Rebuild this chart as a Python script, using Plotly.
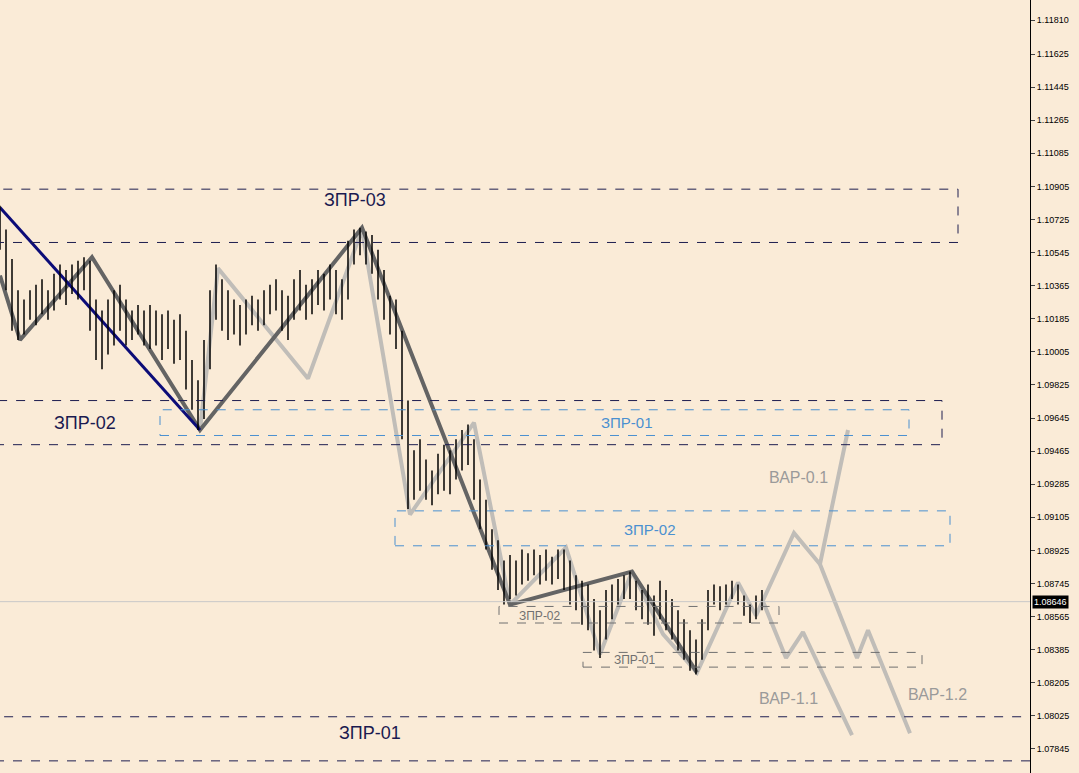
import plotly.graph_objects as go

# Bars: x position, high, low
bar_x = list(range(0, 768, 6))
bar_high = [1.1080, 1.1067, 1.1051, 1.1034, 1.1029, 1.1034, 1.1037, 1.1040, 1.1034, 1.1043,
            1.1048, 1.1045, 1.1048, 1.1050, 1.1052, 1.1050, 1.1029, 1.1023, 1.1029, 1.1034,
            1.1037, 1.1029, 1.1023, 1.1026, 1.1023, 1.1026, 1.1023, 1.1021, 1.1023, 1.1018,
            1.1021, 1.1012, 1.0996, 1.0985, 1.1007, 1.1034, 1.1048, 1.1040, 1.1034, 1.1029,
            1.1026, 1.1029, 1.1031, 1.1029, 1.1034, 1.1037, 1.1040, 1.1034, 1.1031, 1.1040,
            1.1045, 1.1037, 1.1040, 1.1045, 1.1043, 1.1048, 1.1045, 1.1040, 1.1061, 1.1067,
            1.1068, 1.1066, 1.1064, 1.1056, 1.1045, 1.1031, 1.1029, 1.1012, 1.0974, 1.0947,
            1.0953, 1.0942, 1.0936, 1.0945, 1.0950, 1.0947, 1.0953, 1.0958, 1.0961, 1.0953,
            1.0931, 1.0920, 1.0904, 1.0898, 1.0887, 1.0890, 1.0887, 1.0893, 1.0891, 1.0893,
            1.0890, 1.0893, 1.0889, 1.0893, 1.0893, 1.0887, 1.0879, 1.0876, 1.0874, 1.0866,
            1.0860, 1.0871, 1.0874, 1.0877, 1.0879, 1.0881, 1.0876, 1.0871, 1.0874, 1.0868,
            1.0876, 1.0871, 1.0866, 1.0860, 1.0855, 1.0849, 1.0844, 1.0855, 1.0871, 1.0874,
            1.0873, 1.0874, 1.0876, 1.0874, 1.0868, 1.0863, 1.0868, 1.0871]
bar_low = [1.1056, 1.1034, 1.1012, 1.1007, 1.1010, 1.1018, 1.1015, 1.1021, 1.1018, 1.1023,
           1.1029, 1.1026, 1.1032, 1.1029, 1.1034, 1.1012, 1.0996, 1.0991, 1.0999, 1.1004,
           1.1012, 1.1004, 1.1007, 1.1010, 1.1004, 1.1002, 1.1004, 1.0996, 1.1002, 1.0994,
           1.0996, 1.0980, 1.0969, 1.0958, 1.0964, 1.0991, 1.1018, 1.1012, 1.1007, 1.1010,
           1.1004, 1.1010, 1.1015, 1.1012, 1.1015, 1.1021, 1.1023, 1.1012, 1.1007, 1.1018,
           1.1023, 1.1018, 1.1021, 1.1026, 1.1023, 1.1029, 1.1021, 1.1018, 1.1029, 1.1048,
           1.1053, 1.1048, 1.1043, 1.1029, 1.1018, 1.1010, 1.1002, 1.0953, 1.0915, 1.0920,
           1.0925, 1.0920, 1.0917, 1.0923, 1.0925, 1.0923, 1.0931, 1.0936, 1.0939, 1.0920,
           1.0904, 1.0893, 1.0882, 1.0871, 1.0863, 1.0866, 1.0868, 1.0874, 1.0876, 1.0879,
           1.0874, 1.0876, 1.0874, 1.0877, 1.0871, 1.0863, 1.0860, 1.0852, 1.0849, 1.0838,
           1.0834, 1.0844, 1.0855, 1.0863, 1.0866, 1.0866, 1.0860, 1.0855, 1.0852, 1.0846,
           1.0855, 1.0849, 1.0844, 1.0838, 1.0833, 1.0827, 1.0825, 1.0833, 1.0849, 1.0863,
           1.0860, 1.0863, 1.0866, 1.0863, 1.0857, 1.0853, 1.0855, 1.0860]

# Wave lines
navy_x = [0, 200]
navy_y = [1.1079, 1.0958]
dark_x = [0, 20, 92, 200, 362, 510, 632, 697]
dark_y = [1.1042, 1.1007, 1.1052, 1.0958, 1.1068, 1.0863, 1.0881, 1.0826]
light_x = [200, 218, 308, 362, 410, 474, 510, 566, 600, 632, 663, 697, 738, 756, 794, 820, 848]
light_y = [1.0958, 1.1046, 1.0986, 1.1067, 1.0912, 1.0962, 1.0863, 1.0894, 1.0836, 1.0881,
           1.0847, 1.0826, 1.0875, 1.0857, 1.0902, 1.0885, 1.0958]
bap11_x = [762, 786, 803, 852]
bap11_y = [1.0866, 1.0834, 1.0848, 1.0792]
bap12_x = [820, 857, 868, 910]
bap12_y = [1.0885, 1.0834, 1.0849, 1.0793]

# Zones
zone_names = ["ЗПР-03", "ЗПР-02", "ЗПР-01", "ЗПР-01", "ЗПР-02", "ЗПР-02", "ЗПР-01"]
zone_x0 = [-5, -5, -5, 160, 395, 499, 583]
zone_x1 = [958, 942, 1035, 909, 950, 779, 922]
zone_top = [1.1089, 1.0974, 1.0802, 1.0969, 1.0914, 1.0862, 1.0837]
zone_bot = [1.1060, 1.0950, 1.0778, 1.0955, 1.0895, 1.0853, 1.0829]
zone_kind = ["big", "big", "big", "blue", "blue", "small", "small"]
zone_label_x = [355, 85, 370, 627, 650, 540, 635]
zone_label_y = [1.1083, 1.0962, 1.0793, 1.0962, 1.0904, 1.0857, 1.0833]

bap_names = ["ВАР-0.1", "ВАР-1.1", "ВАР-1.2"]
bap_label_x = [798, 788, 937]
bap_label_y = [1.0932, 1.0812, 1.0814]

last_price = 1.08646
tick_vals = [1.11810, 1.11625, 1.11445, 1.11265, 1.11085, 1.10905, 1.10725, 1.10545, 1.10365,
             1.10185, 1.10005, 1.09825, 1.09645, 1.09465, 1.09285, 1.09105, 1.08925, 1.08745,
             1.08565, 1.08385, 1.08205, 1.08025, 1.07845]

fig = go.Figure()

# light gray wave lines under the bars
for xs, ys in [(light_x, light_y), (bap11_x, bap11_y), (bap12_x, bap12_y)]:
    fig.add_trace(go.Scatter(x=xs, y=ys, mode='lines', line=dict(color='#c0bdb8', width=4)))

fig.add_trace(go.Scatter(x=dark_x, y=dark_y, mode='lines', line=dict(color='#646464', width=4)))
fig.add_trace(go.Scatter(x=navy_x, y=navy_y, mode='lines', line=dict(color='#0c0c78', width=3)))

bx, by = [], []
for x, h, l in zip(bar_x, bar_high, bar_low):
    bx += [x, x, None]
    by += [h, l, None]
fig.add_trace(go.Scatter(x=bx, y=by, mode='lines', line=dict(color='black', width=1.5)))

# current price line
fig.add_hline(y=last_price, line=dict(color='#c8c8c8', width=1))

styles = {'big': ('#1e1e50', 18, '#1a1a50'),
          'blue': ('#4a90d0', 15, '#4a90d0'),
          'small': ('#707070', 12, '#707070')}
for name, x0, x1, t, b, k, lx, ly in zip(zone_names, zone_x0, zone_x1, zone_top, zone_bot,
                                        zone_kind, zone_label_x, zone_label_y):
    col, fs, tc = styles[k]
    fig.add_shape(type='rect', x0=x0, x1=x1, y0=b, y1=t, xref='x', yref='y',
                  line=dict(color=col, width=1, dash='dash'))
    fig.add_annotation(x=lx, y=ly, text=name, showarrow=False,
                       font=dict(size=fs, color=tc, family='Liberation Sans'))

for name, lx, ly in zip(bap_names, bap_label_x, bap_label_y):
    fig.add_annotation(x=lx, y=ly, text=name, showarrow=False,
                       font=dict(size=16, color='#9a9a9a', family='Liberation Sans'))

fig.add_annotation(x=1, xref='paper', y=last_price, text=f"{last_price:.5f}", showarrow=False,
                   xanchor='left', xshift=2, bgcolor='black',
                   font=dict(size=9, color='white', family='Liberation Sans'), borderpad=1)

fig.update_layout(
    width=1079, height=773, margin=dict(l=0, r=49, t=0, b=0),
    paper_bgcolor='#faebd7', plot_bgcolor='#faebd7', showlegend=False,
    xaxis=dict(range=[0, 1030], visible=False),
    yaxis=dict(range=[1.07714, 1.11919], side='right', tickvals=tick_vals,
               ticktext=[f"{v:.5f}" for v in tick_vals], showgrid=False, zeroline=False,
               showline=True, linecolor='black', ticks='outside', ticklen=4,
               tickfont=dict(size=9, color='black', family='Liberation Sans')),
)

fig.write_html("out.html", config={'displayModeBar': False},
               post_script="document.body.style.margin='0';")
